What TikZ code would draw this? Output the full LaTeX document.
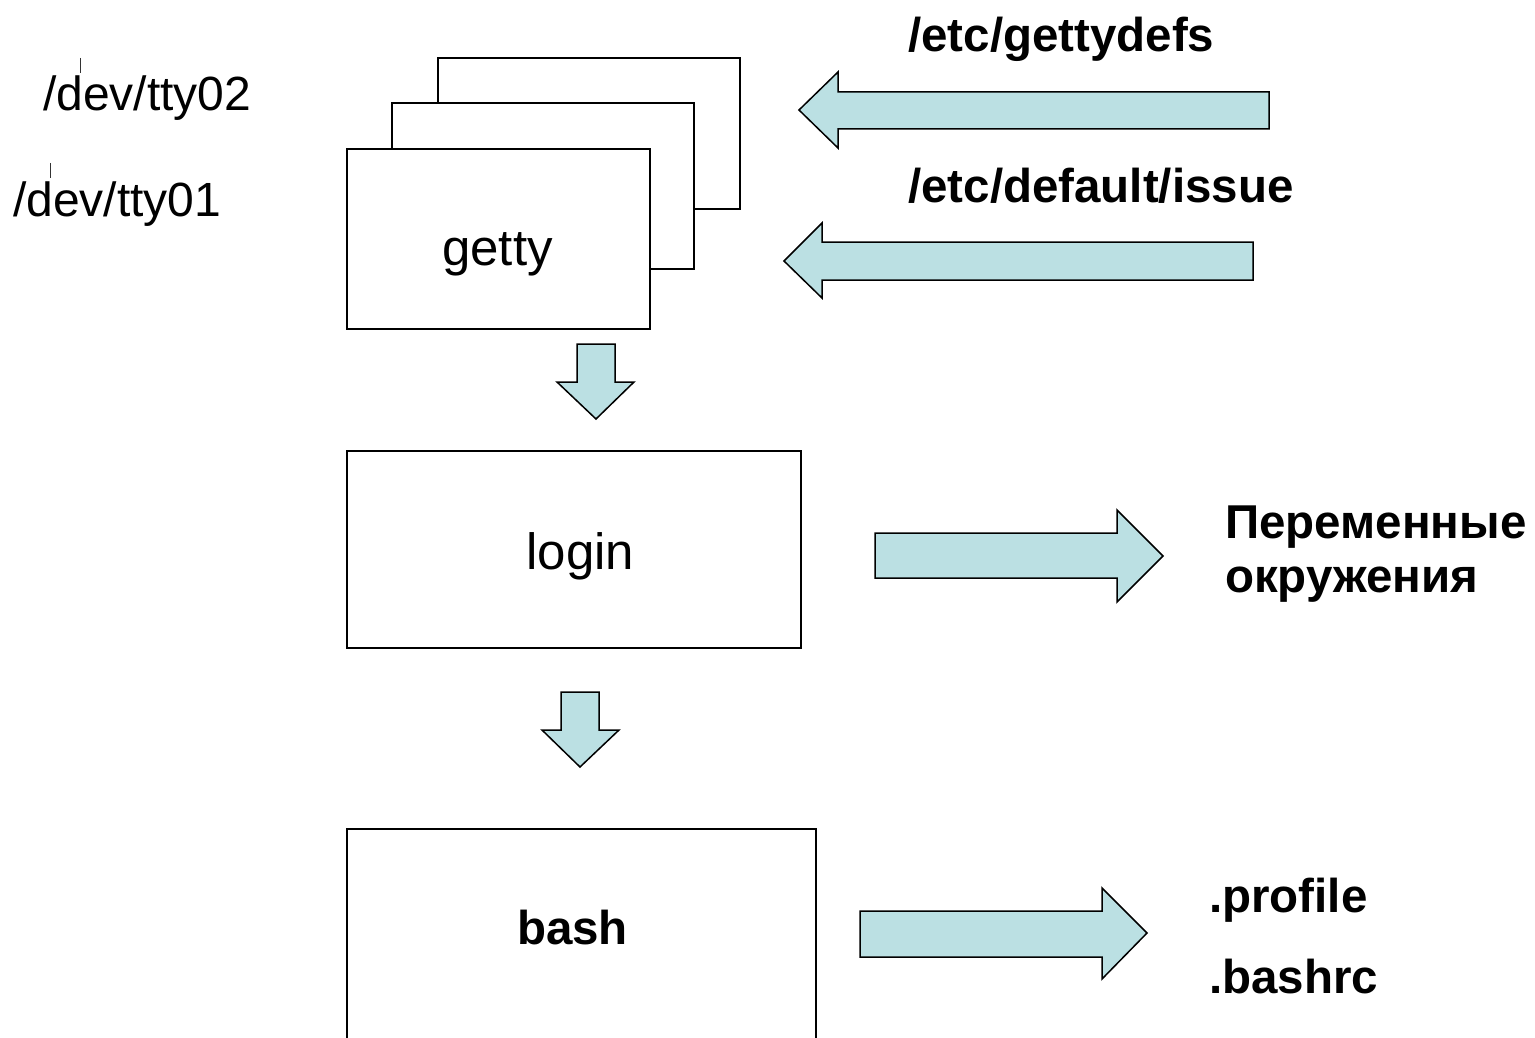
\documentclass[tikz,border=0pt]{standalone}
\usepackage{fontspec}
\setmainfont{Liberation Sans}
\definecolor{arrowfill}{HTML}{BBE0E3}
\tikzset{
  boxstyle/.style={draw=black, line width=2pt, fill=white, inner sep=0pt, anchor=north west},
  blockarrow/.style={draw=black, line width=1.5pt, fill=arrowfill, line join=miter},
  regtext/.style={inner sep=0pt, font=\fontsize{48}{58}\selectfont},
  boxtext/.style={inner sep=0pt, anchor=base, font=\fontsize{51}{60}\selectfont},
  boldtext/.style={inner sep=0pt, anchor=base west, font=\fontsize{47.5}{56}\selectfont\bfseries},
  tickmark/.style={draw=black!80, line width=1pt}
}
\begin{document}
\begin{tikzpicture}[x=1pt, y=-1pt]
\useasboundingbox (0,0) rectangle (1535,1038);
\clip (0,0) rectangle (1535,1038);

% terminal labels
\node[regtext, anchor=base west] (tty2) at (43,111) {/dev/tty02};
\node[regtext, anchor=base west] (tty1) at (13,216) {/dev/tty01};
\draw[tickmark] (80,58) -- (80,73);
\draw[tickmark] (50,163) -- (50,178);

% stacked getty boxes
\node[boxstyle, minimum width=302pt, minimum height=151pt] (gettyC) at (437,57) {};
\node[boxstyle, minimum width=302pt, minimum height=166pt] (gettyB) at (391,102) {};
\node[boxstyle, minimum width=303pt, minimum height=180pt] (gettyA) at (346,148) {};
\node[boxtext] (gettyT) at (497.5,265) {getty};

% login box
\node[boxstyle, minimum width=454pt, minimum height=197pt] (login) at (346,450) {};
\node[boxtext] (loginT) at (580.5,569) {login};

% bash box
\node[boxstyle, minimum width=469pt, minimum height=240pt] (bash) at (346,828) {};
\node[boxtext, font=\fontsize{47.5}{56}\selectfont\bfseries] (bashT) at (572.5,944) {bash};

% file labels
\node[boldtext] (gettydefs) at (908,52) {/etc/gettydefs};
\node[boldtext] (issue) at (908,202) {/etc/default/issue};
\node[boldtext] (env1) at (1225,538) {Переменные};
\node[boldtext] (env2) at (1225,592) {окружения};
\node[boldtext] (profile) at (1209,912) {.profile};
\node[boldtext] (bashrc) at (1209,993) {.bashrc};

% left block arrows
\draw[blockarrow] (1269,92) -- (838,92) -- (838,72) -- (799,110) -- (838,148) -- (838,129) -- (1269,129) -- cycle;
\draw[blockarrow] (1253,242) -- (822,242) -- (822,223) -- (784,261) -- (822,298) -- (822,280) -- (1253,280) -- cycle;

% down block arrows
\draw[blockarrow] (577,344) -- (615,344) -- (615,382) -- (634,382) -- (596,419) -- (557,382) -- (577,382) -- cycle;
\draw[blockarrow] (561,692) -- (599,692) -- (599,730) -- (619,730) -- (580,767) -- (542,730) -- (561,730) -- cycle;

% right block arrows
\draw[blockarrow] (875,533) -- (1117,533) -- (1117,510) -- (1163,556) -- (1117,602) -- (1117,578) -- (875,578) -- cycle;
\draw[blockarrow] (860,911) -- (1102,911) -- (1102,888) -- (1147,933) -- (1102,979) -- (1102,957) -- (860,957) -- cycle;
\end{tikzpicture}
\end{document}
